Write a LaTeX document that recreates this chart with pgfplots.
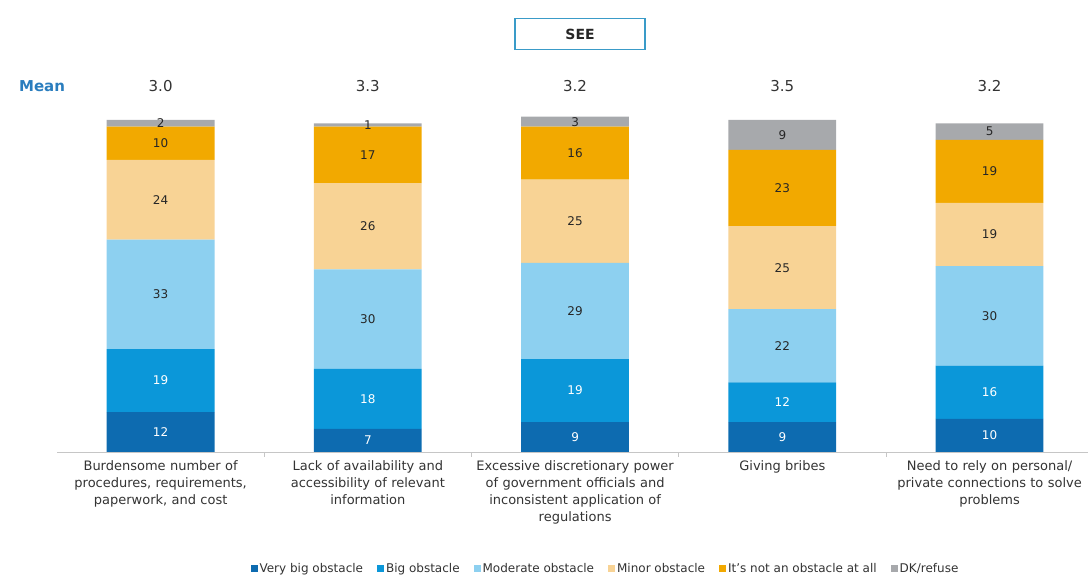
\documentclass[border=0pt]{standalone}
\usepackage{pgfplots}
\usepackage{pgfplotstable}
\pgfplotsset{compat=1.18}
\usepackage{fontspec}
\setmainfont{DejaVu Sans}

\definecolor{vbig}{HTML}{0D6BB0}
\definecolor{big}{HTML}{0B97D9}
\definecolor{moder}{HTML}{8DD0F0}
\definecolor{minor}{HTML}{F8D395}
\definecolor{notob}{HTML}{F2A900}
\definecolor{dk}{HTML}{A7A9AC}
\definecolor{meanblue}{HTML}{2A7DBE}
\definecolor{boxblue}{HTML}{3A9BC8}

% shares (%) per category: 0..4
\pgfplotstableread{
x vbig big moder minor notob dk
0 12 19 33 24 10 2
1 7  18 30 26 17 1
2 9  19 29 25 16 3
3 9  12 22 25 23 9
4 10 16 30 19 19 5
}\data

\begin{document}
\begin{tikzpicture}
\begin{axis}[
    scale only axis, width=1031pt, height=332pt,
    ybar stacked, bar width=0.52,
    xmin=-0.5, xmax=4.475, ymin=0, ymax=100,
    clip=false,
    axis x line*=bottom, axis y line=none,
    x axis line style={gray!45, line width=0.8pt, -},
    xtick={0,1,2,3,4},
    major x tick style={draw=none},
    minor xtick={0.5,1.5,2.5,3.5},
    minor x tick style={gray!45, line width=0.8pt},
    minor tick length=5pt, tick align=outside,
    xticklabels={
        {Burdensome number of\\procedures, requirements,\\paperwork, and cost},
        {Lack of availability and\\accessibility of relevant\\information},
        {Excessive discretionary power\\of government officials and\\inconsistent application of\\regulations},
        {Giving bribes},
        {Need to rely on personal/\\private connections to solve\\problems}},
    xticklabel style={align=center, text width=215pt, text=black!80,
        font=\fontsize{13}{17}\selectfont, yshift=-1pt},
    ytick=\empty,
    /pgf/number format/assume math mode=true,
    nodes near coords,
    every node near coord/.append style={anchor=center,
        font=\fontsize{12}{14}\selectfont, text=black!85},
    legend columns=6,
    legend style={at={(0.532,-0.352)}, anchor=center, draw=none,
        font=\fontsize{12}{14}\selectfont, text=black!80,
        /tikz/every even column/.append style={column sep=12pt}},
    legend image code/.code={\fill[#1, draw=none] (0pt,-3.5pt) rectangle (7pt,3.5pt);},
]
\addplot[fill=vbig, draw=none,
    every node near coord/.append style={text=white}] table[x=x, y=vbig] {\data};
\addlegendentry{Very big obstacle}
\addplot[fill=big, draw=none,
    every node near coord/.append style={text=white}] table[x=x, y=big] {\data};
\addlegendentry{Big obstacle}
\addplot[fill=moder, draw=none] table[x=x, y=moder] {\data};
\addlegendentry{Moderate obstacle}
\addplot[fill=minor, draw=none] table[x=x, y=minor] {\data};
\addlegendentry{Minor obstacle}
\addplot[fill=notob, draw=none] table[x=x, y=notob] {\data};
\addlegendentry{It's not an obstacle at all}
\addplot[fill=dk, draw=none] table[x=x, y=dk] {\data};
\addlegendentry{DK/refuse}

% mean row
\node[font=\fontsize{15}{18}\selectfont\bfseries, text=meanblue]
    at (axis cs:-0.572,110.2) {Mean};
\node[font=\fontsize{15}{18}\selectfont, text=black!80] at (axis cs:0,110.2) {3.0};
\node[font=\fontsize{15}{18}\selectfont, text=black!80] at (axis cs:1,110.2) {3.3};
\node[font=\fontsize{15}{18}\selectfont, text=black!80] at (axis cs:2,110.2) {3.2};
\node[font=\fontsize{15}{18}\selectfont, text=black!80] at (axis cs:3,110.2) {3.5};
\node[font=\fontsize{15}{18}\selectfont, text=black!80] at (axis cs:4,110.2) {3.2};

% region box
\node[draw=boxblue, line width=1.5pt, minimum width=130pt, minimum height=31pt,
    font=\fontsize{14}{16}\selectfont\bfseries, text=black!85]
    at (axis cs:2.024,125.9) {SEE};

\coordinate (bbsw) at (rel axis cs:-0.0553,-0.3795);
\coordinate (bbne) at (rel axis cs:1,1.3614);
\end{axis}
\pgfresetboundingbox
\path[use as bounding box] (bbsw) rectangle (bbne);
\end{tikzpicture}
\end{document}
